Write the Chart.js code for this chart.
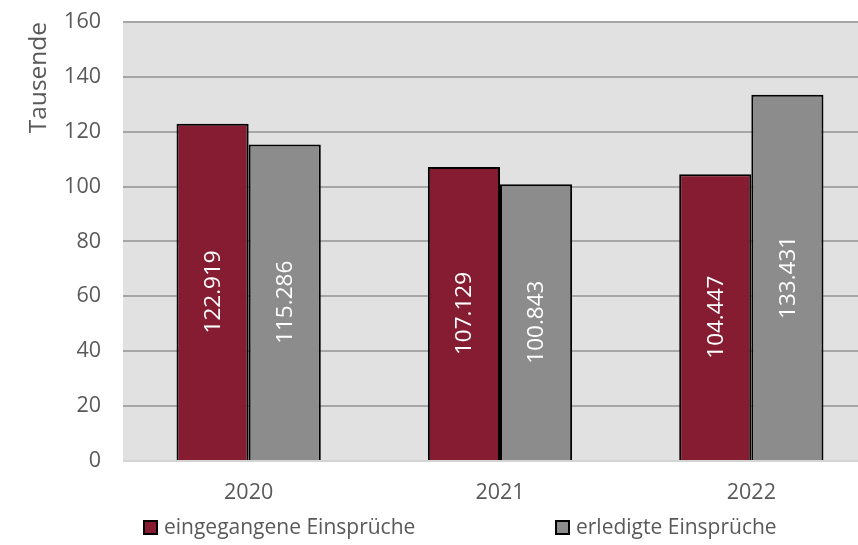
<!DOCTYPE html>
<html>
<head>
<meta charset="utf-8">
<script src="https://cdn.jsdelivr.net/npm/chart.js@4/dist/chart.umd.min.js"></script>
<style>
  html, body { margin: 0; padding: 0; background: #fff; overflow: hidden; }
  #wrap { position: relative; width: 858px; height: 545px; overflow: hidden; }
  #box { position: absolute; left: 0; top: -13px; width: 880px; height: 558px; }
  .leg { position: absolute; font-family: "Open Sans", sans-serif; font-size: 21px; color: #595959; white-space: nowrap; line-height: 26px; }
  .leg i { display: inline-block; width: 11px; height: 11px; border: 2px solid #000; margin-right: 6px; vertical-align: -1px; }
</style>
</head>
<body>
<div id="wrap">
  <div id="box"><canvas id="myChart" width="880" height="558"></canvas></div>
  <div class="leg" style="left:143px; top:513px;"><i style="background:#861c32"></i>eingegangene Einsprüche</div>
  <div class="leg" style="left:555px; top:513px;"><i style="background:#8c8c8c"></i>erledigte Einsprüche</div>
</div>
<script>
// Data (Tausende)
const years = ['2020', '2021', '2022'];
const eingegangen = [122.919, 107.129, 104.447];
const erledigt = [115.286, 100.843, 133.431];
const seriesNames = ['eingegangene Einsprüche', 'erledigte Einsprüche'];

const FONT = '"Open Sans", sans-serif';

//Plot background
const plotBg = {
  id: 'plotBg',
  beforeDraw(chart) {
    const { ctx, chartArea: a } = chart;
    ctx.save();
    ctx.fillStyle = '#e1e1e1';
    ctx.fillRect(a.left, a.top, a.right - a.left, a.bottom - a.top);
    ctx.restore();
  }
};

//Vertical value labels inside the bars
const barLabels = {
  id: 'barLabels',
  afterDatasetsDraw(chart) {
    const ctx = chart.ctx;
    ctx.save();
    ctx.fillStyle = '#ffffff';
    ctx.font = '22.5px ' + FONT;
    ctx.textAlign = 'center';
    ctx.textBaseline = 'middle';
    chart.data.datasets.forEach((ds, i) => {
      chart.getDatasetMeta(i).data.forEach((bar, j) => {
        const yMid = (bar.y + bar.base) / 2;
        ctx.save();
        ctx.translate(bar.x + 1, yMid);
        ctx.rotate(-Math.PI / 2);
        ctx.fillText(ds.data[j].toFixed(3), 0, 0);
        ctx.restore();
      });
    });
    ctx.restore();
  }
};

const ctx = document.getElementById('myChart').getContext('2d');
new Chart(ctx, {
  type: 'bar',
  data: {
    labels: years,
    datasets: [
      { label: seriesNames[0], data: eingegangen, backgroundColor: '#861c32', borderColor: '#000', borderWidth: 2, borderSkipped: 'bottom' },
      { label: seriesNames[1], data: erledigt, backgroundColor: '#8c8c8c', borderColor: '#000', borderWidth: 2, borderSkipped: 'bottom' }
    ]
  },
  options: {
    responsive: false,
    animation: false,
    categoryPercentage: 0.574,
    barPercentage: 1,
    layout: { padding: { top: 10, bottom: 34, left: 0, right: 3 } },
    plugins: {
      legend: { display: false },
      tooltip: { enabled: false }
    },
    scales: {
      x: {
        grid: { display: false, drawTicks: false },
        border: { display: false },
        ticks: { color: '#595959', font: { family: FONT, size: 21.5 }, padding: 19 },
        afterFit(scale) { scale.height = 50; }
      },
      y: {
        min: 0,
        max: 160,
        ticks: { stepSize: 20, color: '#595959', font: { family: FONT, size: 21.5 }, padding: 22 },
        grid: {
          drawTicks: false,
          lineWidth: 2,
          color: (c) => c.tick && c.tick.value === 0 ? '#d4d4d4' : '#a6a6a6'
        },
        border: { display: false },
        title: { display: true, text: 'Tausende', align: 'end', color: '#595959', font: { family: FONT, size: 24.5 }, padding: { top: 24, bottom: 0 } },
        afterFit(scale) { scale.width = 123; }
      }
    }
  },
  plugins: [plotBg, barLabels]
});
</script>
</body>
</html>
